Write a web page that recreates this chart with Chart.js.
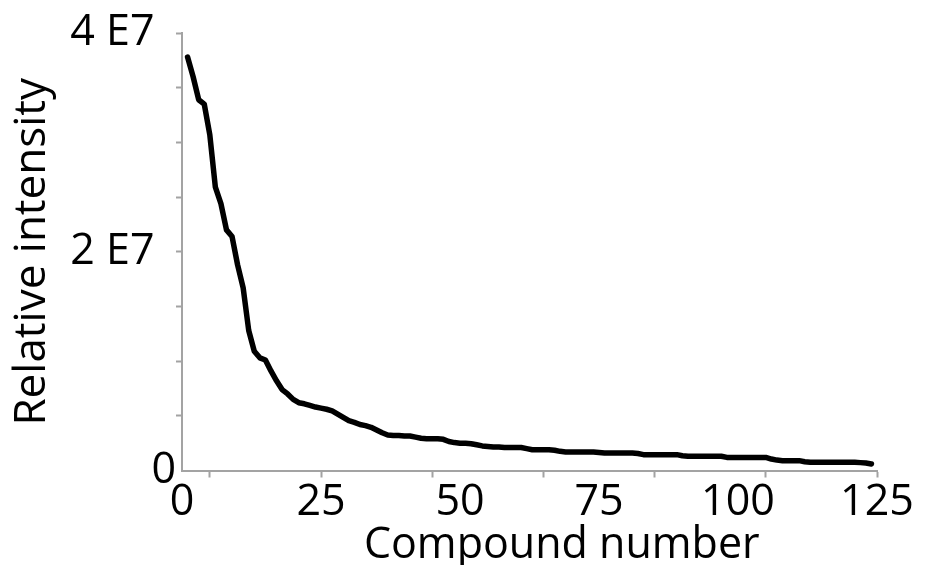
<!DOCTYPE html>
<html>
<head>
<meta charset="utf-8">
<script src="https://cdn.jsdelivr.net/npm/chart.js@4"></script>
<style>
html,body{margin:0;padding:0;background:#fff;}
#wrap{width:927px;height:565px;}
</style>
</head>
<body>
<div id="wrap"><canvas id="c" width="927" height="565"></canvas></div>
<script>
// Relative intensity per compound, in units of 1E6
const intensityE6 = [
  37.8, 36.0, 33.9, 33.5, 30.7, 25.9, 24.4, 22.0, 21.4, 18.8,
  16.7, 12.8, 10.9, 10.3, 10.1, 9.1, 8.2, 7.4, 7.0, 6.5,
  6.2, 6.1, 5.95, 5.8, 5.7, 5.6, 5.45, 5.15, 4.85, 4.55,
  4.4, 4.2, 4.1, 3.95, 3.7, 3.45, 3.25, 3.2, 3.2, 3.15,
  3.15, 3.05, 2.95, 2.9, 2.9, 2.9, 2.85, 2.65, 2.55, 2.5,
  2.5, 2.45, 2.35, 2.25, 2.2, 2.15, 2.15, 2.1, 2.1, 2.1,
  2.1, 2.0, 1.9, 1.9, 1.9, 1.9, 1.85, 1.75, 1.7, 1.7,
  1.7, 1.7, 1.7, 1.7, 1.65, 1.6, 1.6, 1.6, 1.6, 1.6,
  1.6, 1.55, 1.45, 1.45, 1.45, 1.45, 1.45, 1.45, 1.45, 1.35,
  1.3, 1.3, 1.3, 1.3, 1.3, 1.3, 1.3, 1.2, 1.2, 1.2,
  1.2, 1.2, 1.2, 1.2, 1.2, 1.05, 0.95, 0.9, 0.9, 0.9,
  0.9, 0.8, 0.75, 0.75, 0.75, 0.75, 0.75, 0.75, 0.75, 0.75,
  0.75, 0.72, 0.68, 0.6
];
const compoundNumbers = Array.from({length: intensityE6.length}, (_, i) => i + 1);

const xLabelValues = [0, 25, 50, 75, 100, 125];
const xTickMarkValues = [5, 25, 45, 65, 85, 105, 125];
const yLabelValues = [0, 20, 40];
const yLabelTexts = ['0', '2 E7', '4 E7'];
const xTitle = 'Compound number';
const yTitle = 'Relative intensity';

const axisGray = '#a3a3a3';
const FONT = '"Open Sans", sans-serif';

const points = compoundNumbers.map((c, i) => ({x: c, y: intensityE6[i]}));

new Chart(document.getElementById('c'), {
  type: 'line',
  data: {
    datasets: [{
      data: points,
      borderColor: '#000',
      borderWidth: 5.5,
      pointRadius: 0,
      tension: 0,
      borderCapStyle: 'round',
      borderJoinStyle: 'round',
      fill: false
    }]
  },
  options: {
    responsive: false,
    animation: false,
    events: [],
    layout: {padding: {left: 0, top: 33, right: 50, bottom: 0}},
    plugins: {legend: {display: false}, tooltip: {enabled: false}},
    scales: {
      x: {
        type: 'linear',
        min: 0,
        max: 125,
        afterBuildTicks(scale) {
          const vals = Array.from(new Set([...xLabelValues, ...xTickMarkValues])).sort((a, b) => a - b);
          scale.ticks = vals.map(v => ({value: v}));
        },
        afterFit(scale) { scale.height = 94.5; },
        border: {display: true, color: axisGray, width: 2},
        grid: {
          drawOnChartArea: false,
          drawTicks: true,
          tickLength: 7,
          tickWidth: 2,
          tickColor: ctx => xTickMarkValues.includes(ctx.tick.value) ? axisGray : 'rgba(0,0,0,0)'
        },
        ticks: {
          autoSkip: false,
          maxRotation: 0,
          padding: 4,
          color: '#000',
          font: {family: FONT, size: 43, lineHeight: 1.0},
          callback: v => xLabelValues.includes(v) ? String(v) : ''
        },
        title: {
          display: true,
          text: '\u2003\u2002' + xTitle,
          color: '#000',
          font: {family: FONT, size: 43, lineHeight: 1.0},
          padding: {top: 0, bottom: -2}
        }
      },
      y: {
        type: 'linear',
        min: 0,
        max: 40,
        afterBuildTicks(scale) {
          const vals = [];
          for (let v = 0; v <= 40; v += 5) vals.push(v);
          scale.ticks = vals.map(v => ({value: v}));
        },
        afterFit(scale) { scale.width = 182; },
        border: {display: true, color: axisGray, width: 2},
        grid: {
          drawOnChartArea: false,
          drawTicks: true,
          tickLength: 6,
          tickWidth: 2,
          tickColor: ctx => ctx.tick.value === 0 ? 'rgba(0,0,0,0)' : axisGray
        },
        ticks: {
          autoSkip: false,
          padding: 0,
          color: '#000',
          font: {family: FONT, size: 43, lineHeight: 1.0},
          callback: v => {
            const i = yLabelValues.indexOf(v);
            if (i < 0) return '';
            return v === 0 ? yLabelTexts[i] : yLabelTexts[i] + '\u2002';
          }
        },
        title: {
          display: true,
          text: yTitle,
          color: '#000',
          font: {family: FONT, size: 44, lineHeight: 1.2},
          padding: {top: 6, bottom: 0}
        }
      }
    }
  }
});
</script>
</body>
</html>
